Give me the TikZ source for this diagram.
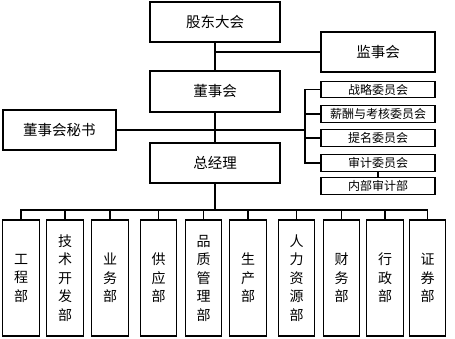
\documentclass[tikz,border=0pt]{standalone}
\usepackage{fontspec}
\newfontfamily\cjk{Noto Sans CJK SC}
\begin{document}
\begin{tikzpicture}[x=1pt,y=-1pt,
  box/.style={draw, line width=1.4pt, inner sep=0pt, rectangle, font=\cjk\fontsize{14.5}{14.5}\selectfont},
  bigbox/.style={box, minimum width=130pt, minimum height=40pt},
  sidebox/.style={box, minimum width=114pt, minimum height=40pt},
  combox/.style={box, minimum width=114pt, minimum height=16.5pt, font=\cjk\fontsize{12}{12}\selectfont},
  deptbox/.style={box, minimum width=36.5pt, minimum height=116pt, align=center, font=\cjk\fontsize{14}{18.5}\selectfont},
  conn/.style={line width=1.2pt}]
\useasboundingbox (0,0) rectangle (455,339);
\node[bigbox] (gd) at (215,22) {股东大会};
\node[sidebox] (js) at (378,52) {监事会};
\node[bigbox, minimum height=41pt] (ds) at (215,91.5) {董事会};
\node[box, minimum width=113pt, minimum height=40pt] (ms) at (59.5,130) {董事会秘书};
\node[bigbox] (zjl) at (215,163) {总经理};
\node[combox] (c1) at (378,89.5) {战略委员会};
\node[combox] (c2) at (378,114) {薪酬与考核委员会};
\node[combox] (c3) at (378,138) {提名委员会};
\node[combox] (c4) at (378,163) {审计委员会};
\node[combox] (c5) at (378,186) {内部审计部};
\foreach \n/\x/\t in {b1/21/工\\程\\部, b2/65/技\\术\\开\\发\\部, b3/110/业\\务\\部, b4/158.5/供\\应\\部, b5/203.5/品\\质\\管\\理\\部, b6/248/生\\产\\部, b7/296.5/人\\力\\资\\源\\部, b8/341.5/财\\务\\部, b9/385/行\\政\\部, b10/427.5/证\\券\\部}
  {\node[deptbox] (\n) at (\x,278) {\t};}
% connectors
\coordinate (j1) at (215,52);
\draw[conn] (gd.south) -- (ds.north);
\draw[conn] (j1) -- (js.west);
\draw[conn] (ds.south) -- (zjl.north);
\coordinate (bus) at (305,130);
\draw[conn] (ms.east) -- (bus);
\draw[conn] (c1.west) -| (bus) |- (c4.west);
\draw[conn] (c2.west) -- (c2.west -| bus);
\draw[conn] (c3.west) -- (c3.west -| bus);
\draw[conn] (c4.south) -- (c5.north);
\coordinate (j2) at (215,210);
\draw[conn] (zjl.south) -- (j2);
\draw[conn] (b1.north) -- (b1.north |- j2) -- (b10.north |- j2) -- (b10.north);
\foreach \n in {b2,b3,b4,b5,b6,b7,b8,b9}
  {\draw[conn] (\n.north) -- (\n.north |- j2);}
\end{tikzpicture}
\end{document}
